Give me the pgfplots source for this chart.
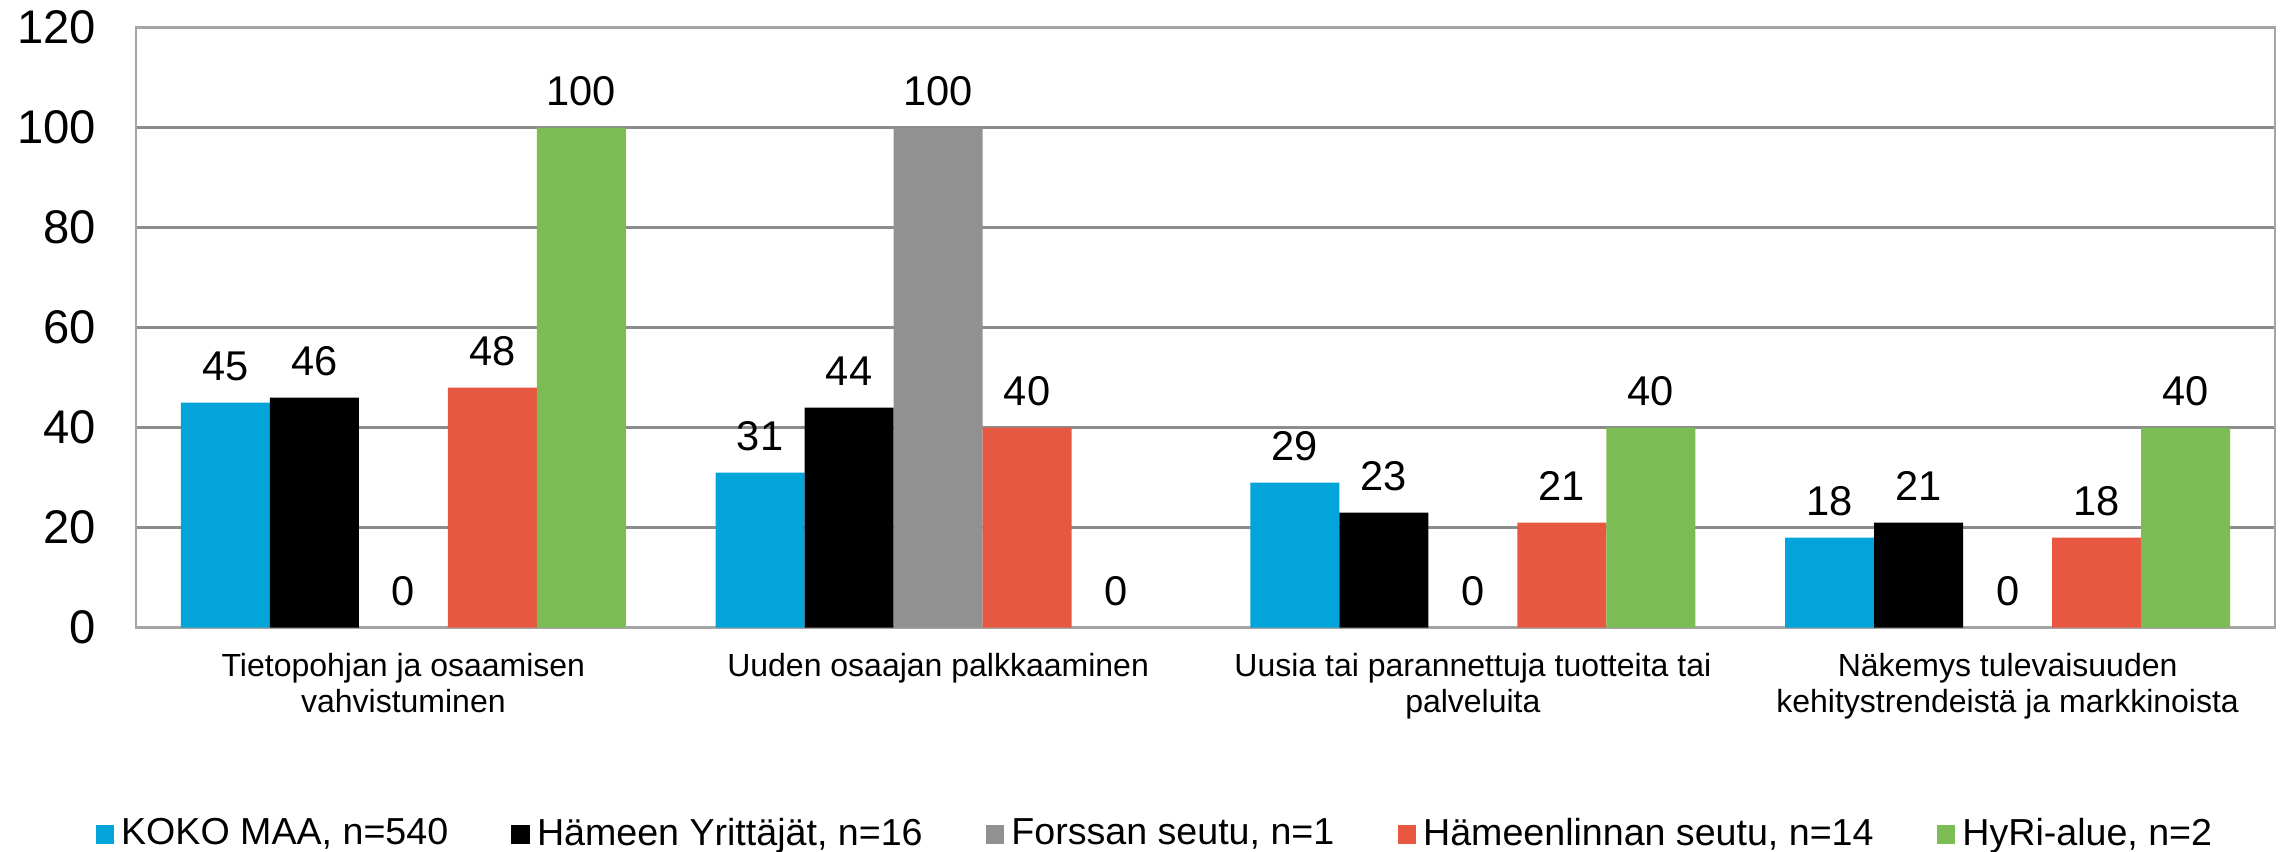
\documentclass[border=0pt]{standalone}
\usepackage{fontspec}
\setmainfont{Liberation Sans}
\usepackage{pgfplots}
\pgfplotsset{compat=1.18}
\definecolor{cblue}{RGB}{2,164,217}
\definecolor{cblack}{RGB}{0,0,0}
\definecolor{cgray}{RGB}{145,145,145}
\definecolor{cred}{RGB}{232,88,64}
\definecolor{cgreen}{RGB}{123,188,85}
\definecolor{gridgray}{RGB}{140,140,140}
\definecolor{axisgray}{RGB}{165,165,165}
\begin{document}
\begin{tikzpicture}
\begin{axis}[name=ax, scale only axis, width=534.75pt, height=150pt,
  ybar=0pt, bar width=22.25pt,
  xmin=-0.5, xmax=3.5, ymin=0, ymax=120,
  xtick={0,1,2,3},
  xticklabels={{Tietopohjan ja osaamisen\\vahvistuminen},{Uuden osaajan palkkaaminen},{Uusia tai parannettuja tuotteita tai\\palveluita},{Näkemys tulevaisuuden\\kehitystrendeistä ja markkinoista}},
  ytick={0,20,...,120},
  major tick length=0pt,
  ymajorgrids, grid style={draw=gridgray, line width=0.6pt},
  axis line style={draw=axisgray, line width=0.7pt},
  /pgf/number format/assume math mode=true,
  yticklabel style={font=\fontsize{11.8}{13}\selectfont, xshift=-6.5pt},
  xticklabel style={font=\fontsize{8}{9}\selectfont, align=center, yshift=-3pt},
  nodes near coords={\pgfmathprintnumber[fixed,precision=0]{\pgfplotspointmeta}},
  every node near coord/.append style={font=\fontsize{10.4}{12}\selectfont, yshift=2pt, black, /pgf/number format/assume math mode=true},
  legend columns=5,
  legend style={draw=none, fill=none, at={(0.5,0)}, anchor=center, yshift=-51.7pt, xshift=-12pt,
    font=\fontsize{9.4}{11}\selectfont, nodes={inner xsep=1.8pt},
    /tikz/every even column/.append style={column sep=14pt}},
  legend image code/.code={\fill[#1, draw=none] (0pt,-2.3pt) rectangle (4.6pt,2.3pt);},
]
\addplot[fill=cblue, draw=none] coordinates {(0,45) (1,31) (2,29) (3,18)};
\addplot[fill=cblack, draw=none] coordinates {(0,46) (1,44) (2,23) (3,21)};
\addplot[fill=cgray, draw=none] coordinates {(0,0) (1,100) (2,0) (3,0)};
\addplot[fill=cred, draw=none] coordinates {(0,48) (1,40) (2,21) (3,18)};
\addplot[fill=cgreen, draw=none] coordinates {(0,100) (1,0) (2,40) (3,40)};
\legend{{KOKO MAA, n=540}, {Hämeen Yrittäjät, n=16}, {Forssan seutu, n=1}, {Hämeenlinnan seutu, n=14}, {HyRi-alue, n=2}}
\end{axis}
\pgfresetboundingbox
\path (ax.south west) ++(-34pt,-56.1pt) rectangle ++(571.25pt,213pt);
\end{tikzpicture}
\end{document}
